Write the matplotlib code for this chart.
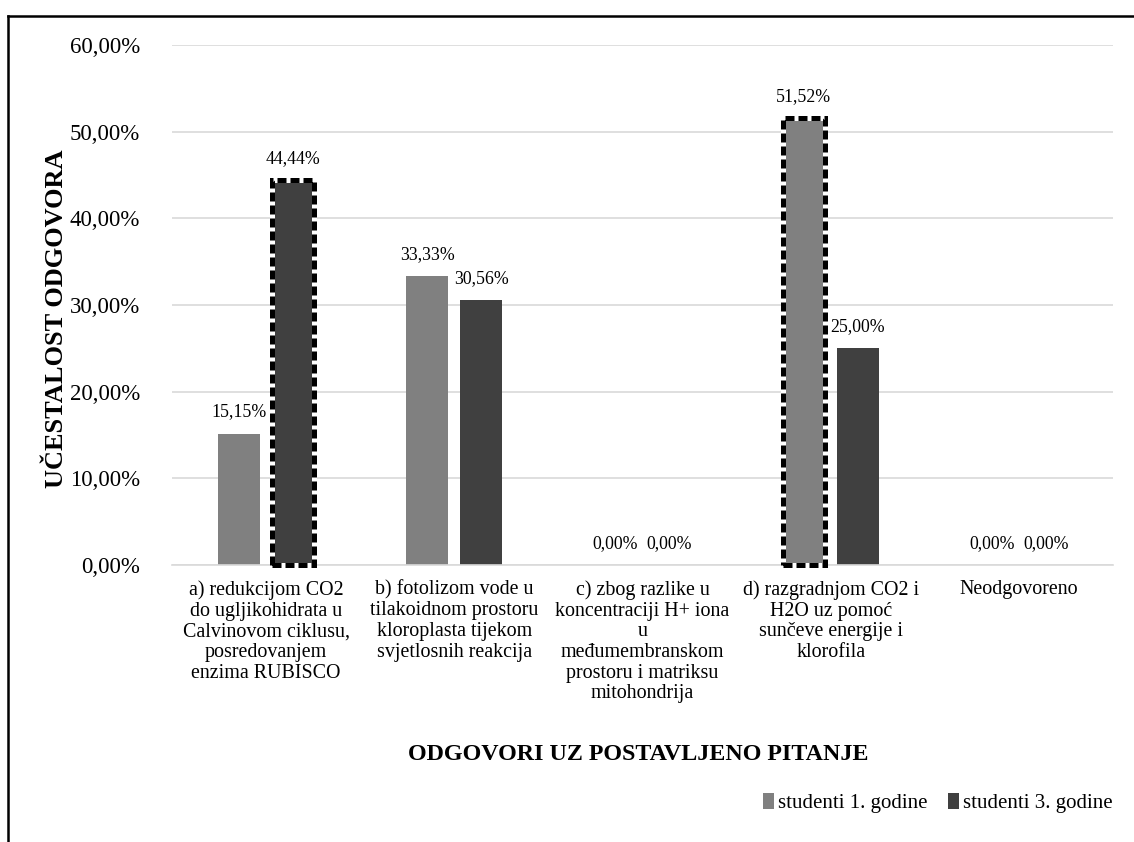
import matplotlib
matplotlib.use("Agg")
import matplotlib.pyplot as plt
from matplotlib.patches import Rectangle
from matplotlib.lines import Line2D
import numpy as np

plt.rcParams['font.family'] = ['Liberation Serif', 'DejaVu Serif']

categories = [
    "a) redukcijom CO2\ndo ugljikohidrata u\nCalvinovom ciklusu,\nposredovanjem\nenzima RUBISCO",
    "b) fotolizom vode u\ntilakoidnom prostoru\nkloroplasta tijekom\nsvjetlosnih reakcija",
    "c) zbog razlike u\nkoncentraciji H+ iona\nu\nmeđumembranskom\nprostoru i matriksu\nmitohondrija",
    "d) razgradnjom CO2 i\nH2O uz pomoć\nsunčeve energije i\nklorofila",
    "Neodgovoreno",
]
series_names = ["studenti 1. godine", "studenti 3. godine"]
year1 = [15.15, 33.33, 0.00, 51.52, 0.00]
year3 = [44.44, 30.56, 0.00, 25.00, 0.00]
# highlighted bars: (series index, category index)
highlighted = [(1, 0), (0, 3)]
yticks = [0, 10, 20, 30, 40, 50, 60]

colors = ["#808080", "#404040"]

fig = plt.figure(figsize=(11.34, 8.42), dpi=100)
ax = fig.add_axes([0.1517, 0.329, 0.8298, 0.6176])

x = np.arange(len(categories))
w = 0.223
off = 0.1435
series = [year1, year3]
bar_containers = []
for i, vals in enumerate(series):
    bc = ax.bar(x + (off if i else -off), vals, width=w, color=colors[i],
                label=series_names[i], zorder=2)
    bar_containers.append(bc)
    for xi, v in zip(x, vals):
        ax.annotate(f"{v:.2f}%".replace(".", ","), (xi + (off if i else -off), v),
                    xytext=(0, 9.5), textcoords="offset points", ha="center",
                    va="bottom", fontsize=12.8, color="#000000")

for si, ci in highlighted:
    r = bar_containers[si][ci]
    for ec, ls in [("white", "-"), ("black", (0, (1.8, 0.8)))]:
        ax.add_patch(Rectangle((r.get_x(), 0), r.get_width(), r.get_height(),
                               fill=False, edgecolor=ec, linewidth=3.6,
                               linestyle=ls, zorder=4, clip_on=False))

ax.set_xlim(-0.5, len(categories) - 0.5)
ax.set_ylim(0, 60)
ax.set_yticks(yticks)
ax.set_yticklabels([f"{t:.2f}%".replace(".", ",") for t in yticks], fontsize=16.5)
ax.set_xticks(x)
ax.set_xticklabels(categories, fontsize=14.4, linespacing=1.12)
ax.tick_params(axis="both", length=0)
ax.tick_params(axis="y", pad=23)
ax.tick_params(axis="x", pad=11)
ax.yaxis.grid(True, color="#d9d9d9", linewidth=1.2, zorder=0)
ax.set_axisbelow(True)
for s in ["top", "right", "left"]:
    ax.spines[s].set_visible(False)
ax.spines["bottom"].set_color("#d9d9d9")
ax.spines["bottom"].set_linewidth(1.2)

fig.text(0.050, 0.622, "UČESTALOST ODGOVORA", rotation=90, ha="center",
         va="center", fontsize=19, fontweight="bold")
fig.text(0.563, 0.104, "ODGOVORI UZ POSTAVLJENO PITANJE", ha="center",
         va="center", fontsize=17.3, fontweight="bold")

fig.legend(loc="center right", bbox_to_anchor=(0.994, 0.046), ncol=2,
           frameon=False, fontsize=15, handlelength=0.5, handleheight=0.8,
           handletextpad=0.2, columnspacing=1.0, borderpad=0.2)

# figure frame (top and left lines)
fig.add_artist(Line2D([0.007, 1.0], [0.981, 0.981], color="black", linewidth=1.8,
                      transform=fig.transFigure))
fig.add_artist(Line2D([0.007, 0.007], [0.0, 0.981], color="black", linewidth=1.8,
                      transform=fig.transFigure))

fig.savefig("out.png", dpi=100)
